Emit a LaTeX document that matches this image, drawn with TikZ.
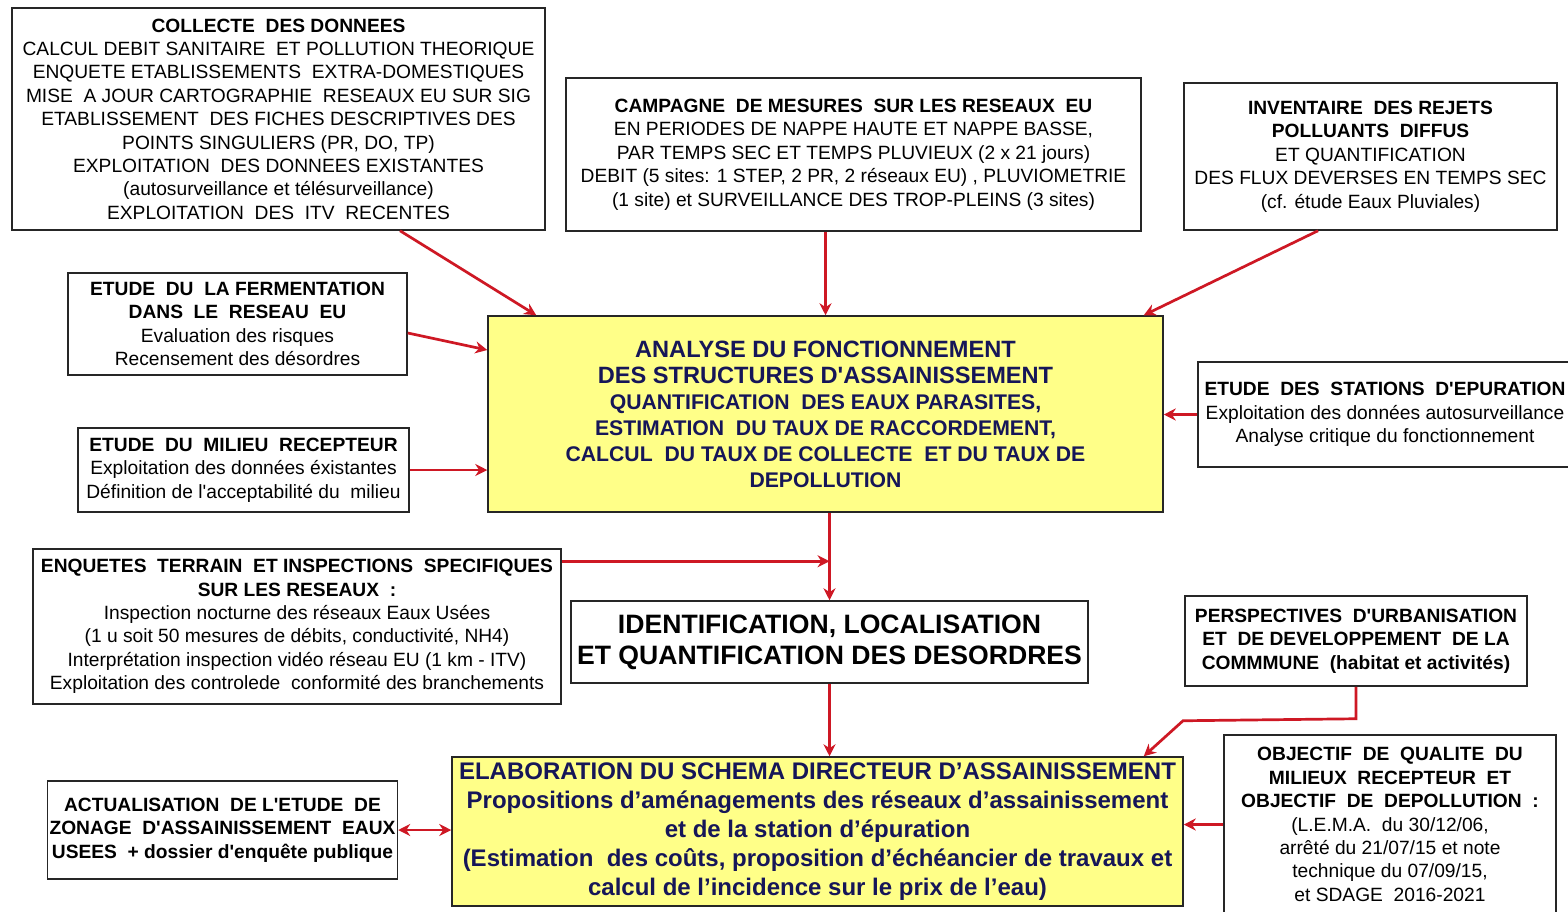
\documentclass[tikz,border=0pt]{standalone}
\usepackage{fontspec}
\setmainfont{Liberation Sans}[Ligatures=TeXOff]
\usetikzlibrary{arrows.meta, positioning, calc}

\definecolor{linkred}{RGB}{206,24,36}
\definecolor{boxyellow}{RGB}{255,255,136}
\definecolor{navytext}{RGB}{22,22,88}

\begin{document}
\begin{tikzpicture}[x=0.5pt, y=-0.5pt,
    box/.style={draw=black!85, line width=0.75pt, align=center, inner sep=1pt,
        font=\fontsize{9.6}{11.7}\selectfont},
    yellowbox/.style={box, fill=boxyellow, text=navytext},
    link/.style={draw=linkred, line width=1.35pt, -{Stealth[length=6pt, width=6pt]}}]
% Page
\useasboundingbox (0,0) rectangle (1568,911);
\fill[white] (0,0) rectangle (1568,911);

% Top row
\node[box, minimum width=266.5pt, minimum height=111pt] (collecte) at (278.5,119) {%
    {\bfseries COLLECTE\ \ DES DONNEES}\\
    CALCUL DEBIT SANITAIRE\ \ ET POLLUTION THEORIQUE\\
    ENQUETE ETABLISSEMENTS\ \ EXTRA-DOMESTIQUES\\
    MISE\ \ A JOUR CARTOGRAPHIE\ \ RESEAUX EU SUR SIG\\
    ETABLISSEMENT\ \ DES FICHES DESCRIPTIVES DES\\
    POINTS SINGULIERS (PR, DO, TP)\\
    EXPLOITATION\ \ DES DONNEES EXISTANTES\\
    (autosurveillance et télésurveillance)\\
    EXPLOITATION\ \ DES\ \ ITV\ \ RECENTES};
\node[box, minimum width=287.5pt, minimum height=76.5pt] (campagne) at (853.5,154.5) {%
    {\bfseries CAMPAGNE\ \ DE MESURES\ \ SUR LES RESEAUX\ \ EU}\\
    EN PERIODES DE NAPPE HAUTE ET NAPPE BASSE,\\
    PAR TEMPS SEC ET TEMPS PLUVIEUX (2 x 21 jours)\\
    DEBIT (5 sites: 1 STEP, 2 PR, 2 réseaux EU) , PLUVIOMETRIE\\
    (1 site) et SURVEILLANCE DES TROP-PLEINS (3 sites)};
\node[box, minimum width=186.5pt, minimum height=73.5pt] (inventaire) at (1370.5,156.5) {%
    {\bfseries INVENTAIRE\ \ DES REJETS}\\
    {\bfseries POLLUANTS\ \ DIFFUS}\\
    ET QUANTIFICATION\\
    DES FLUX DEVERSES EN TEMPS SEC\\
    (cf. étude Eaux Pluviales)};

% Left studies
\node[box, minimum width=169.5pt, minimum height=51pt] (fermentation) at (237.5,324) {%
    {\bfseries ETUDE\ \ DU\ \ LA FERMENTATION}\\
    {\bfseries DANS\ \ LE\ \ RESEAU\ \ EU}\\
    Evaluation des risques\\
    Recensement des désordres};
\node[box, minimum width=165.5pt, minimum height=42pt] (milieu) at (243.5,470) {%
    {\bfseries ETUDE\ \ DU\ \ MILIEU\ \ RECEPTEUR}\\
    Exploitation des données éxistantes\\
    Définition de l'acceptabilité du\ \ milieu};

% Central analysis
\node[yellowbox, minimum width=337.5pt, minimum height=98pt,
    font=\fontsize{10.6}{13}\selectfont\bfseries] (analyse) at (825.5,414) {%
    {\fontsize{11.8}{14}\selectfont ANALYSE DU FONCTIONNEMENT}\\
    {\fontsize{11.8}{14}\selectfont DES STRUCTURES D'ASSAINISSEMENT}\\
    QUANTIFICATION\ \ DES EAUX PARASITES,\\
    ESTIMATION\ \ DU TAUX DE RACCORDEMENT,\\
    CALCUL\ \ DU TAUX DE COLLECTE\ \ ET DU TAUX DE\\
    DEPOLLUTION};
\node[box, minimum width=187pt, minimum height=52.5pt] (stations) at (1385,414.5) {%
    {\bfseries ETUDE\ \ DES\ \ STATIONS\ \ D'EPURATION}\\
    Exploitation des données autosurveillance\\
    Analyse critique du fonctionnement};

% Middle row
\node[box, minimum width=264pt, minimum height=77.5pt] (enquetes) at (297,626.5) {%
    {\bfseries ENQUETES\ \ TERRAIN\ \ ET INSPECTIONS\ \ SPECIFIQUES}\\
    {\bfseries SUR LES RESEAUX\ \ :}\\
    Inspection nocturne des réseaux Eaux Usées\\
    (1 u soit 50 mesures de débits, conductivité, NH4)\\
    Interprétation inspection vidéo réseau EU (1 km - ITV)\\
    Exploitation des controlede\ \ conformité des branchements};
\node[box, minimum width=258.5pt, minimum height=41pt,
    font=\fontsize{13.3}{15.5}\selectfont\bfseries] (identif) at (829.5,642) {%
    IDENTIFICATION, LOCALISATION\\
    ET QUANTIFICATION DES DESORDRES};
\node[box, minimum width=171pt, minimum height=45pt, font=\fontsize{9.6}{11.7}\selectfont\bfseries]
    (perspectives) at (1356,641) {%
    PERSPECTIVES\ \ D'URBANISATION\\
    ET\ \ DE DEVELOPPEMENT\ \ DE LA\\
    COMMMUNE\ \ (habitat et activités)};

% Bottom row
\node[yellowbox, minimum width=365.5pt, minimum height=74.5pt,
    font=\fontsize{12}{14.5}\selectfont\bfseries] (elaboration) at (817.5,831.5) {%
    ELABORATION DU SCHEMA DIRECTEUR D’ASSAINISSEMENT\\
    Propositions d’aménagements des réseaux d’assainissement\\
    et de la station d’épuration\\
    (Estimation\ \ des coûts, proposition d’échéancier de travaux et\\
    calcul de l’incidence sur le prix de l’eau)};
\node[box, minimum width=173.5pt, minimum height=49pt, font=\fontsize{9.6}{11.7}\selectfont\bfseries]
    (actualisation) at (222.5,830) {%
    ACTUALISATION\ \ DE L'ETUDE\ \ DE\\
    ZONAGE\ \ D'ASSAINISSEMENT\ \ EAUX\\
    USEES\ \ + dossier d'enquête publique};
\node[box, minimum width=166pt, minimum height=89.5pt] (objectif) at (1390,824.5) {%
    {\bfseries OBJECTIF\ \ DE\ \ QUALITE\ \ DU}\\
    {\bfseries MILIEUX\ \ RECEPTEUR\ \ ET}\\
    {\bfseries OBJECTIF\ \ DE\ \ DEPOLLUTION\ \ :}\\
    (L.E.M.A.\ \ du 30/12/06,\\
    arrêté du 21/07/15 et note\\
    technique du 07/09/15,\\
    et SDAGE\ \ 2016-2021};

% Connectors into the analysis
\draw[link] ([xshift=60.75pt]collecte.south) -- ([xshift=24.5pt]analyse.north west);
\draw[link] (analyse.north |- campagne.south) -- (analyse.north);
\draw[link] ([xshift=-26.25pt]inventaire.south) -- ([xshift=-10pt]analyse.north east);
\draw[link] ([yshift=-4.5pt]fermentation.east) -- ([yshift=32pt]analyse.west);
\draw[link] (milieu.east) -- (milieu.east -| analyse.west);
\draw[link] (stations.west) -- (stations.west -| analyse.east);

% Down to the diagnosis
\draw[link] (identif.north |- analyse.south) -- (identif.north);
\draw[link] ([yshift=-6.5pt]enquetes.north east) -- ([yshift=-6.5pt]enquetes.north east -| identif.north);
\draw[link] (identif.south) -- (identif.south |- elaboration.north);

% Into the master plan
\draw[link] (perspectives.south) -- ++(0,32) -- ++(-173,2) -- ([xshift=-20pt]elaboration.north east);
\draw[link] (objectif.west) -- (objectif.west -| elaboration.east);
\draw[link, {Stealth[length=6pt, width=6pt]}-{Stealth[length=6pt, width=6pt]}]
    (actualisation.east) -- (actualisation.east -| elaboration.west);
\end{tikzpicture}
\end{document}
